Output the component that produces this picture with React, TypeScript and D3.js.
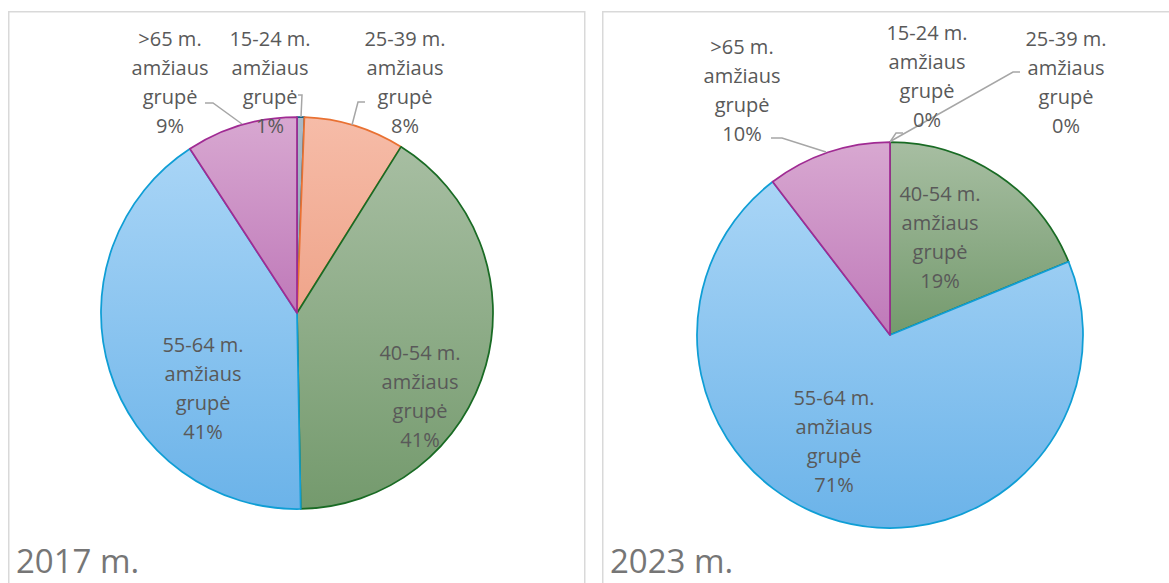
import React from 'react'
import * as d3 from 'd3'

const ageGroups = ['15-24 m.', '25-39 m.', '40-54 m.', '55-64 m.', '>65 m.']
const years = ['2017 m.', '2023 m.']
const values2017 = [0.6, 8.3, 40.8, 41.1, 9.2]
const values2023 = [0, 0, 18.8, 70.8, 10.4]

const strokeColors = ['#156082', '#E97132', '#196B24', '#0F9ED5', '#A02B93']
const fillTop = ['#a9bac8', '#f6bca8', '#a7bea2', '#a9d5f6', '#d8a8d1']
const fillBottom = ['#8ca3b5', '#efa48a', '#749a6d', '#6bb3e9', '#bf79b9']

type Pt = [number, number]
type PanelLayout = {
  x: number
  w: number
  cx: number
  cy: number
  r: number
  labels: Pt[]
  leaders: (Pt[] | null)[]
}

// positions relative to pie centre, hand placed like Excel does
const layouts: PanelLayout[] = [
  {
    x: 8,
    w: 576,
    cx: 297,
    cy: 313,
    r: 196,
    labels: [[-27, -231], [108, -231], [123, 83], [-94, 75], [-127, -231]],
    leaders: [
      [[1, -218], [5, -218], [4, -196]],
      [[68, -211], [61, -211], [55, -188]],
      null,
      null,
      [[-92, -210], [-84, -210], [-55, -189]],
    ],
  },
  {
    x: 602,
    w: 600,
    cx: 890,
    cy: 335,
    r: 193,
    labels: [[37, -259], [176, -253], [50, -98], [-56, 106], [-148, -245]],
    leaders: [
      [[13, -202], [6, -202], [0, -193]],
      [[130, -263], [123, -263], [1, -194]],
      null,
      null,
      [[-119, -197], [-108, -197], [-64, -183]],
    ],
  },
]

const textColor = '#595959'
const font = "'Open Sans', 'Noto Sans', sans-serif"
const lineH = 29

function PiePanel({ values, year, layout }: { values: number[]; year: string; layout: PanelLayout }) {
  const total = d3.sum(values)
  const pie = d3.pie<number>().sort(null).value((d) => d)
  const arcs = pie(values)
  const arc = d3.arc<d3.PieArcDatum<number>>().innerRadius(0).outerRadius(layout.r)
  const line = d3.line<Pt>()

  return (
    <g>
      <rect x={layout.x + 0.75} y={11.75} width={layout.w} height={620} fill='#fff' stroke='#d9d9d9' strokeWidth={1.5} />
      <g transform={`translate(${layout.cx}, ${layout.cy})`}>
        {arcs.map((a, i) => (
          <path
            key={`slice-${i}`}
            d={arc(a) || ''}
            fill={`url(#grad-${i})`}
            stroke={strokeColors[i]}
            strokeWidth={1.75}
            strokeLinejoin='round'
          />
        ))}
        {layout.leaders.map((pts, i) =>
          pts ? <path key={`lead-${i}`} d={line(pts) || ''} fill='none' stroke='#a6a6a6' strokeWidth={1.5} /> : null
        )}
        {arcs.map((a, i) => {
          const [lx, ly] = layout.labels[i]
          const pct = `${Math.round((values[i] / total) * 100)}%`
          const lines = [ageGroups[i], 'amžiaus', 'grupė', pct]
          return (
            <text key={`lab-${i}`} fill={textColor} fontFamily={font} fontSize={20} textAnchor='middle'>
              {lines.map((t, k) => (
                <tspan key={k} x={lx} y={ly + (k - 1.5) * lineH} dominantBaseline='central'>
                  {t}
                </tspan>
              ))}
            </text>
          )
        })}
      </g>
      <text x={layout.x + 8} y={573} fill='#767676' fontFamily={font} fontSize={33}>
        {year}
      </text>
    </g>
  )
}

export default function App() {
  const series = [values2017, values2023]
  return (
    <svg width={1169} height={583} style={{ position: 'absolute', left: 0, top: 0, background: '#fff' }}>
      <defs>
        {strokeColors.map((c, i) => (
          <linearGradient key={i} id={`grad-${i}`} x1='0' y1='0' x2='0' y2='1'>
            <stop offset='0' stopColor={fillTop[i]} />
            <stop offset='1' stopColor={fillBottom[i]} />
          </linearGradient>
        ))}
      </defs>
      {series.map((vals, i) => (
        <PiePanel key={i} values={vals} year={years[i]} layout={layouts[i]} />
      ))}
    </svg>
  )
}
